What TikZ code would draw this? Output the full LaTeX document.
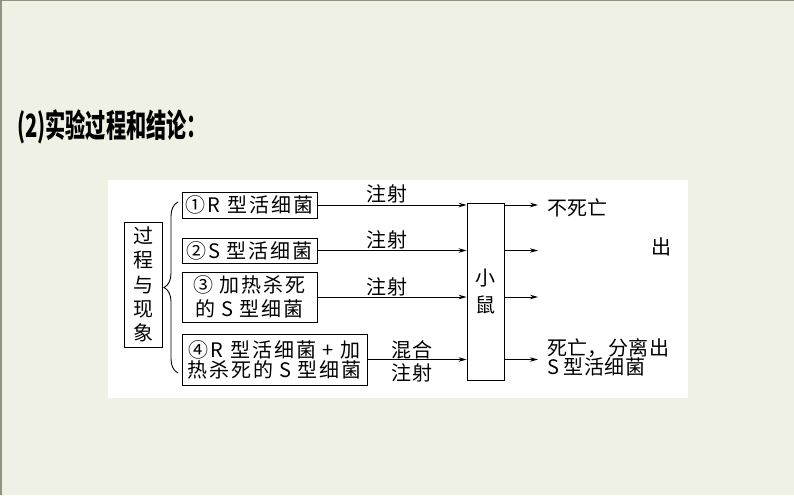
\documentclass[tikz,border=0pt]{standalone}
\usepackage{fontspec}
\setmainfont{Noto Sans CJK SC}
\newfontfamily\boxfont[LetterSpace=10]{Noto Sans CJK SC}
\newfontfamily\resfont[LetterSpace=2]{Noto Sans CJK SC}
\usetikzlibrary{arrows.meta,decorations.pathreplacing}
\definecolor{bgc}{HTML}{EEF1E3}
\definecolor{edgec}{HTML}{8E9480}
\tikzset{
  frame/.style={draw=black, line width=0.9pt, minimum width=135pt, inner sep=0pt,
    align=center, font=\boxfont\fontsize{20}{24}\selectfont},
  lbl/.style={inner sep=0pt, font=\resfont\fontsize{20}{20}\selectfont},
  res/.style={inner sep=0pt, font=\resfont\fontsize{20}{19.5}\selectfont},
  arr/.style={draw=black, line width=0.9pt, -{Stealth[length=8pt,width=4.5pt]}},
}
\begin{document}
\begin{tikzpicture}[x=1pt,y=-1pt]
\useasboundingbox (0,0) rectangle (794,495);
\fill[bgc] (0,0) rectangle (794,495);
\draw[edgec, line width=1.5pt] (0.75,495) -- (0.75,0.75) -- (794,0.75);
\fill[white] (108,180) rectangle (688,398);
% title
\node[anchor=west, inner sep=0pt, font=\bfseries\fontsize{32}{32}\selectfont] (title) at (17,127)
  {\scalebox{0.63}[1]{(2)实验过程和结论：}};
% process box
\node[draw, line width=0.9pt, minimum width=38pt, minimum height=125pt, inner sep=0pt,
  align=center, font=\fontsize{20}{24.25}\selectfont] (proc) at (143,284.5) {过\\程\\与\\现\\象};
% brace
\draw[line width=0.9pt, decorate, decoration={brace, amplitude=14pt}] (178,373) -- (178,202);
% boxes
\node[frame, minimum height=26pt] (b1) at (249.5,205) {①R 型活细菌};
\node[frame, minimum height=25pt] (b2) at (249.5,250.5) {②S 型活细菌};
\node[frame, minimum height=50pt] (b3) at (249.5,297) {③ 加热杀死\\的 S 型细菌};
\node[frame, minimum width=185pt, minimum height=51pt, font=\boxfont\fontsize{20}{20}\selectfont]
  (b4) at (274.5,359.5) {④R 型活细菌 + 加\\热杀死的 S 型细菌};
% mouse
\node[draw, line width=0.9pt, minimum width=37pt, minimum height=177pt, inner sep=0pt,
  align=center, font=\fontsize{20}{27}\selectfont] (m) at (485.5,291.5) {小\\鼠};
% input arrows
\draw[arr] (b1.east) -- (m.west |- b1.east);
\draw[arr] (b2.east) -- (m.west |- b2.east);
\draw[arr] (b3.east) -- (m.west |- b3.east);
\draw[arr] (b4.east) -- (m.west |- b4.east);
% labels
\node[lbl] (l1) at (387,194) {注射};
\node[lbl] (l2) at (387,240) {注射};
\node[lbl] (l3) at (387,287) {注射};
\node[lbl] (l4a) at (412,350) {混合};
\node[lbl] (l4b) at (412,373) {注射};
% output arrows
\coordinate (e1) at (538,205);
\coordinate (e2) at (538,250.5);
\coordinate (e3) at (538,297);
\coordinate (e4) at (538,359.5);
\draw[arr] (m.east |- e1) -- (e1);
\draw[arr] (m.east |- e2) -- (e2);
\draw[arr] (m.east |- e3) -- (e3);
\draw[arr] (m.east |- e4) -- (e4);
% results
\node[res, anchor=west] (r1) at (547,208) {不死亡};
\node[res] (r2) at (661,247) {出};
\node[res, anchor=west, align=left] (r4) at (547,357.5) {死亡，分离出\\S 型活细菌};
\end{tikzpicture}
\end{document}
